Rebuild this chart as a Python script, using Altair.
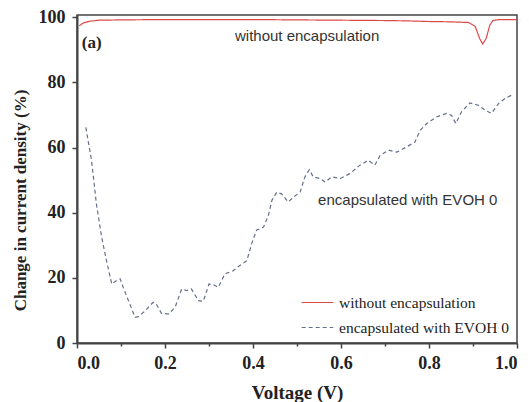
import altair as alt
import pandas as pd

# Normalised current density (%) versus applied voltage (V)
bare_v = [0.005, 0.015, 0.03, 0.05, 0.10, 0.20, 0.30, 0.40, 0.50, 0.60, 0.70,
          0.75, 0.80, 0.85, 0.89, 0.905, 0.915, 0.922, 0.930, 0.938, 0.945,
          0.96, 1.00]
bare_j = [97.4, 98.3, 98.8, 99.1, 99.2, 99.3, 99.3, 99.3, 99.2, 99.1, 99.0,
          98.9, 98.7, 98.6, 98.4, 97.2, 93.5, 91.8, 93.5, 97.5, 99.0,
          99.3, 99.3]

evoh_v = [0.020, 0.033, 0.044, 0.056, 0.067, 0.079, 0.090, 0.098, 0.105, 0.117,
          0.132, 0.140, 0.155, 0.173, 0.180, 0.192, 0.208, 0.223, 0.238, 0.249,
          0.260, 0.276, 0.287, 0.300, 0.312, 0.321, 0.336, 0.355, 0.370, 0.386,
          0.397, 0.408, 0.424, 0.435, 0.443, 0.454, 0.465, 0.480, 0.492, 0.507,
          0.518, 0.528, 0.537, 0.552, 0.564, 0.579, 0.598, 0.620, 0.643, 0.662,
          0.677, 0.689, 0.708, 0.727, 0.749, 0.768, 0.780, 0.795, 0.817, 0.840,
          0.851, 0.861, 0.874, 0.893, 0.912, 0.927, 0.942, 0.958, 0.973, 0.988]
evoh_j = [66.2, 56.1, 42.8, 32.5, 25.3, 18.1, 19.2, 19.7, 17.1, 13.0,
          7.9, 8.1, 9.9, 12.5, 12.0, 9.1, 8.9, 11.0, 16.6, 16.1,
          16.6, 13.0, 12.8, 18.1, 17.8, 17.1, 21.2, 22.2, 23.8, 25.3,
          30.5, 34.6, 35.6, 39.2, 43.8, 46.3, 45.8, 43.3, 44.8, 46.3,
          51.0, 53.2, 51.0, 50.5, 49.4, 51.0, 50.5, 52.0, 54.6, 56.1,
          54.6, 57.6, 59.2, 58.6, 60.2, 61.7, 65.3, 67.4, 69.4, 70.5,
          69.9, 67.4, 71.0, 73.7, 73.0, 71.5, 70.5, 73.5, 75.1, 76.1]

series_names = ["without encapsulation", "encapsulated with EVOH 0"]
series_colors = ["#dc4a48", "#66708a"]
series_dashes = [[1, 0], [4, 3]]

# In-plot annotations
note_text = ["without encapsulation", "encapsulated with EVOH 0"]
note_v = [0.359, 0.548]
note_j = [94.2, 43.8]
panel_text = ["(a)"]
panel_v = [0.011]
panel_j = [92.1]

curves = pd.concat([
    pd.DataFrame({"v": bare_v, "j": bare_j, "series": series_names[0]}),
    pd.DataFrame({"v": evoh_v, "j": evoh_j, "series": series_names[1]}),
])
notes = pd.DataFrame({"v": note_v, "j": note_j, "t": note_text})
panel = pd.DataFrame({"v": panel_v, "j": panel_j, "t": panel_text})

x_scale = alt.Scale(domain=[0, 1], nice=False, zero=False)
y_scale = alt.Scale(domain=[0, 100.7], nice=False)

x_axis = alt.Axis(
    title="Voltage (V)",
    values=[round(0.1 * k, 1) for k in range(11)],
    labelExpr="round(datum.value * 10) % 2 === 0 ? format(datum.value, '.1f') : ''",
    tickSize={"condition": {"test": "round(datum.value * 10) % 2 === 0", "value": 5}, "value": 3},
    labelPadding=6,
    titleFontSize=19,
    titleY=49,
    titleBaseline="middle",
)
y_axis = alt.Axis(
    title="Change in current density (%)",
    values=list(range(0, 101, 10)),
    labelExpr="datum.value % 20 === 0 ? datum.label : ''",
    tickSize={"condition": {"test": "datum.value % 20 === 0", "value": 5}, "value": 3},
    labelPadding=7,
    titleFontSize=17,
    titleAngle=270,
    titleX=-57,
    titleY=185,
    titleAlign="center",
    titleBaseline="middle",
)

lines = alt.Chart(curves).mark_line(strokeWidth=1.2).encode(
    x=alt.X("v:Q", scale=x_scale, axis=x_axis),
    y=alt.Y("j:Q", scale=y_scale, axis=y_axis),
    color=alt.Color(
        "series:N",
        scale=alt.Scale(domain=series_names, range=series_colors),
        legend=alt.Legend(title=None),
    ),
    strokeDash=alt.StrokeDash(
        "series:N",
        scale=alt.Scale(domain=series_names, range=series_dashes),
        legend=alt.Legend(title=None),
    ),
)

note_marks = alt.Chart(notes).mark_text(
    align="left", baseline="middle", font="Liberation Sans", fontSize=15, color="#333333"
).encode(x=alt.X("v:Q", scale=x_scale), y=alt.Y("j:Q", scale=y_scale), text="t:N")

panel_mark = alt.Chart(panel).mark_text(
    align="left", baseline="middle", font="Liberation Serif", fontSize=17,
    fontWeight="bold", color="#222222"
).encode(x=alt.X("v:Q", scale=x_scale), y=alt.Y("j:Q", scale=y_scale), text="t:N")

chart = (
    alt.layer(lines, note_marks, panel_mark)
    .properties(
        width=440,
        height=328,
        autosize="none",
        padding={"left": 77, "top": 15, "right": 12, "bottom": 59},
        background="white",
    )
    .configure_view(stroke="#444444", strokeWidth=1.5)
    .configure_axis(
        grid=False,
        domainColor="#444444",
        domainWidth=2,
        tickColor="#444444",
        tickWidth=1.5,
        labelFont="Liberation Serif",
        labelFontWeight="bold",
        labelFontSize=18,
        labelColor="#222222",
        titleFont="Liberation Serif",
        titleFontWeight="bold",
        titleColor="#222222",
    )
    .configure_legend(
        orient="none",
        legendX=224,
        legendY=271,
        padding=0,
        rowPadding=0,
        symbolType="stroke",
        symbolSize=1000,
        symbolStrokeWidth=1.2,
        labelFont="Liberation Serif",
        labelFontSize=15.5,
        labelColor="#222222",
        labelOffset=5,
        labelLimit=0,
    )
)

chart.save("out.html", embed_options={"renderer": "svg", "actions": False})
